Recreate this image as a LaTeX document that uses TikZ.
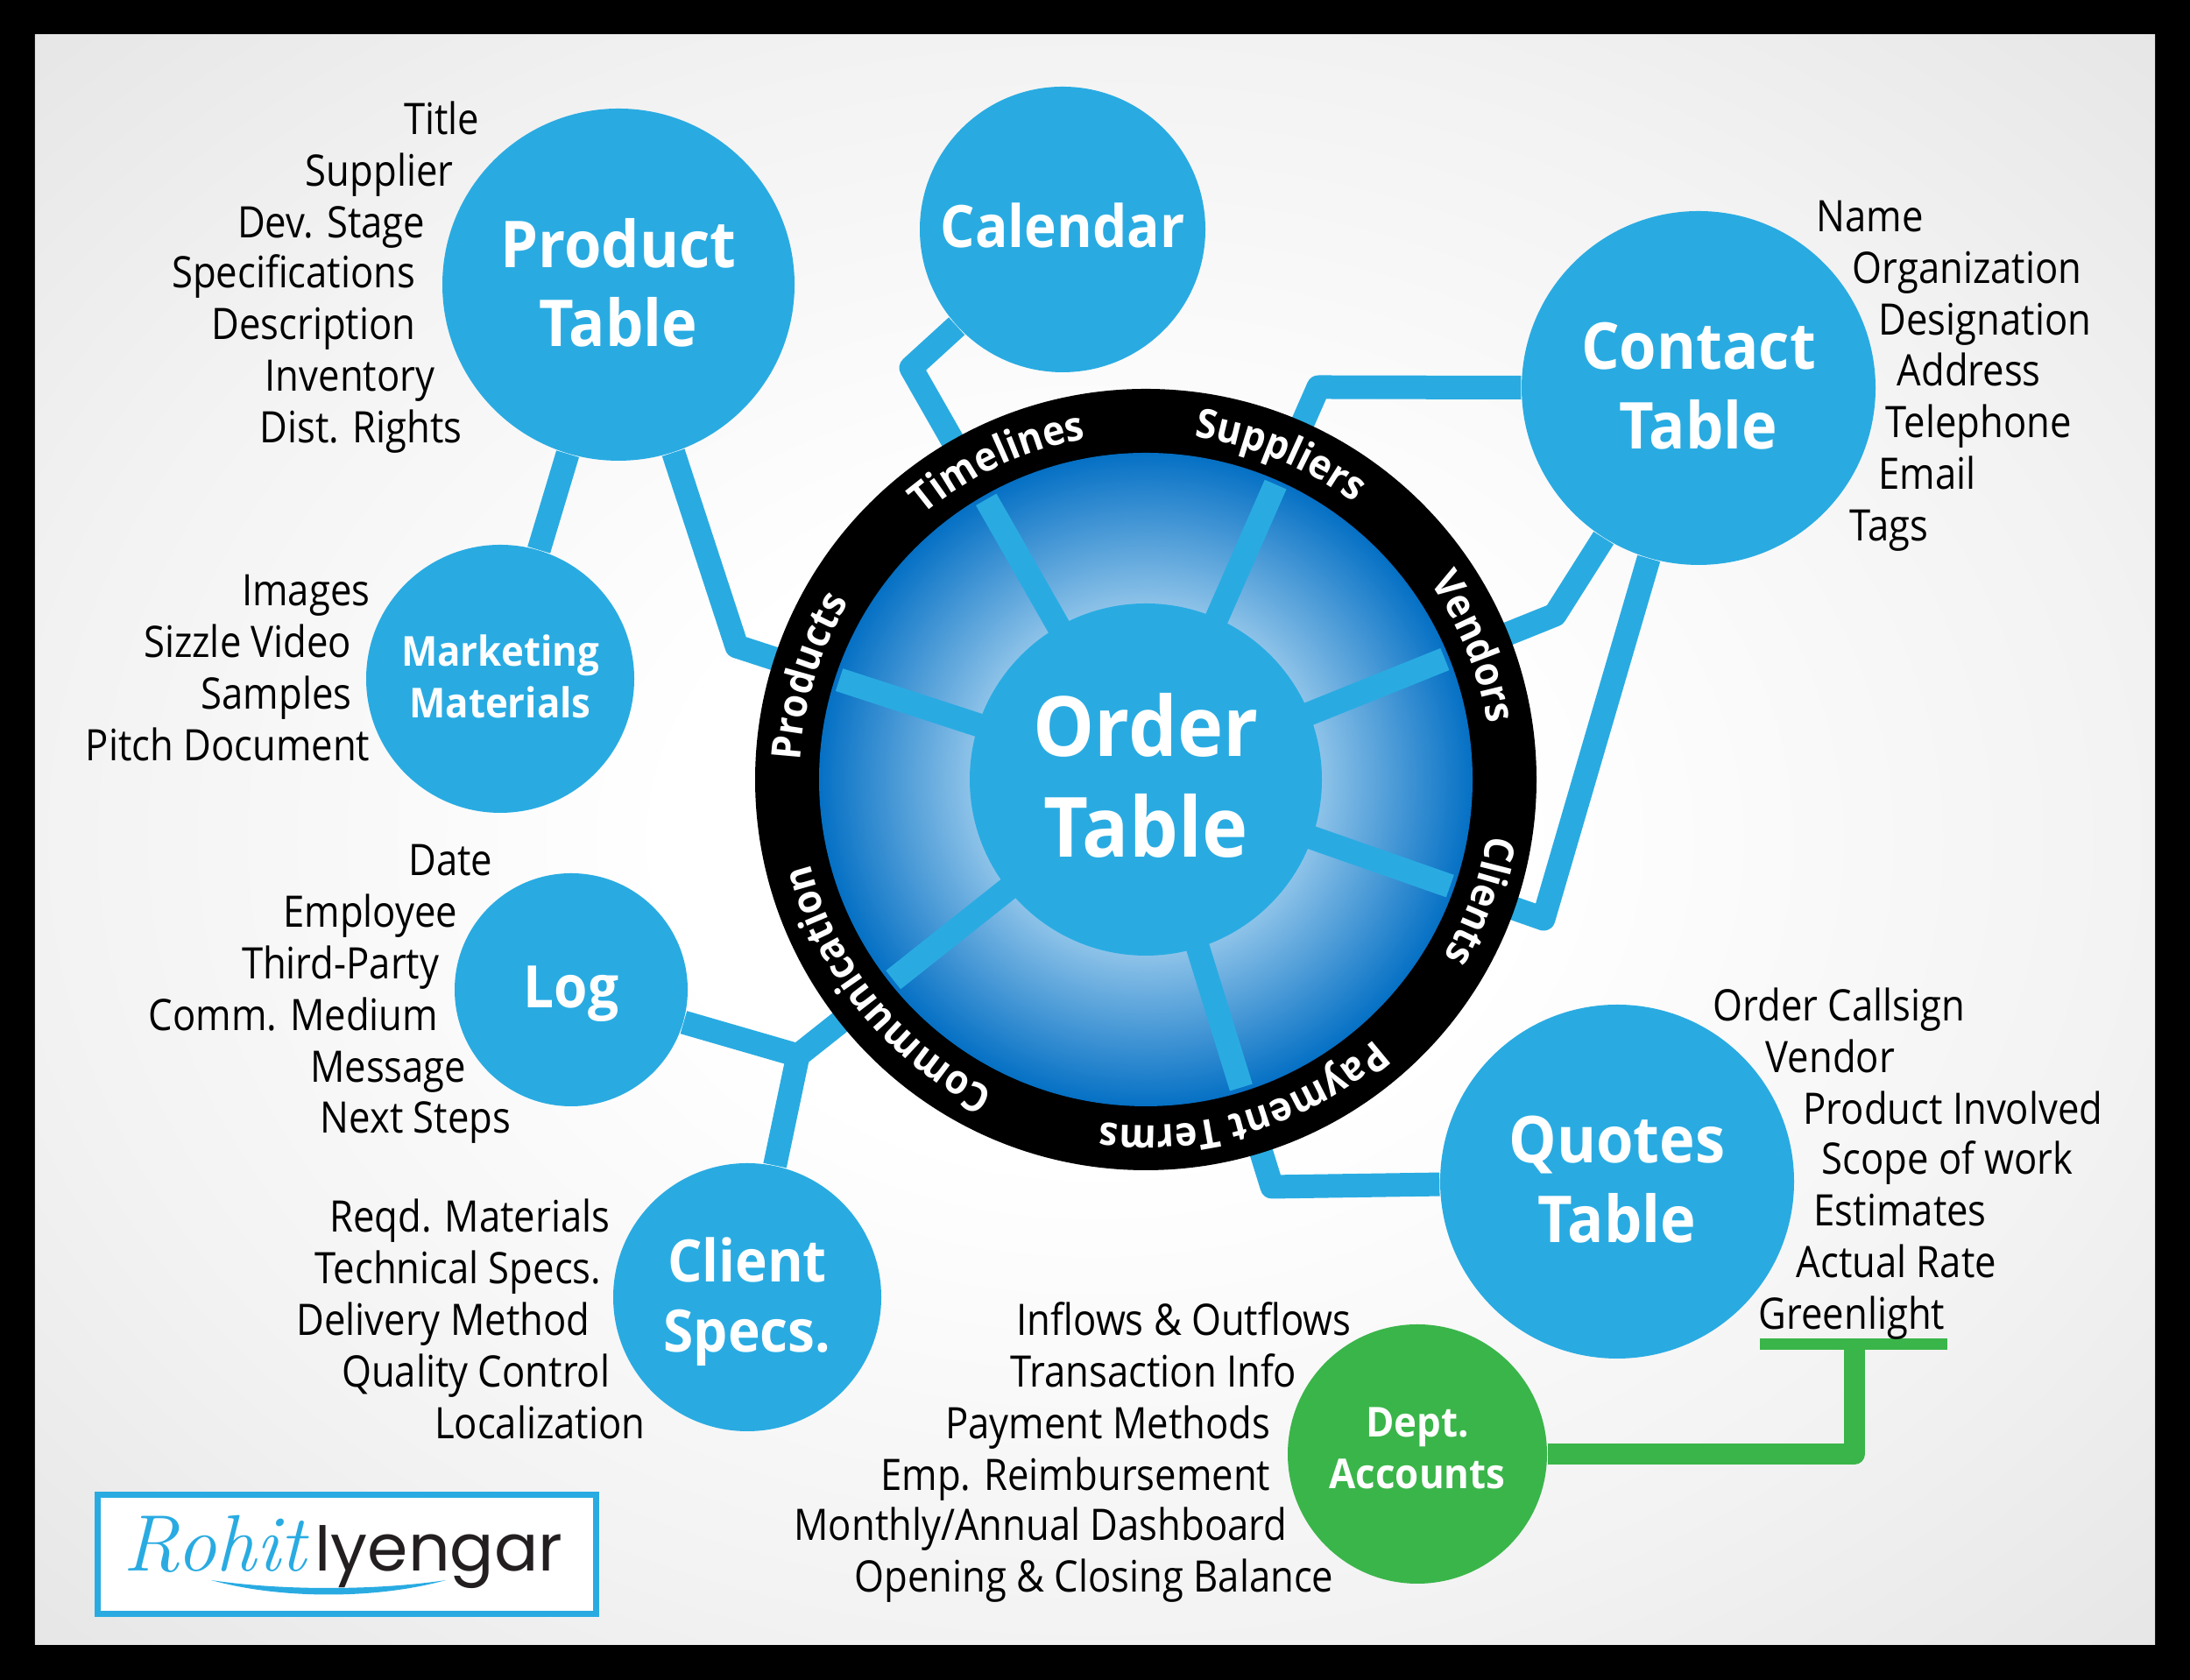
\documentclass[tikz,border=0pt]{standalone}
\usepackage{fontspec}
\usetikzlibrary{calc,backgrounds,decorations.text}
\newfontfamily\opensans[FakeStretch=0.88]{Open Sans}
\newfontfamily\boldsans[FakeStretch=0.93]{Open Sans}
\newfontfamily\logosans{Poppins}
\definecolor{tableblue}{HTML}{29ABE2}
\definecolor{deptgreen}{HTML}{3AB54A}
\definecolor{logoink}{HTML}{231F20}
\pgfdeclareradialshading{paperglow}{\pgfpoint{0bp}{0bp}}{rgb(0bp)=(1,1,1);rgb(10bp)=(1,1,1);rgb(25bp)=(.95,.95,.95);rgb(36bp)=(.90,.90,.90);rgb(50bp)=(.90,.90,.90)}
\pgfdeclareradialshading{discglow}{\pgfpoint{0bp}{0bp}}{rgb(0bp)=(.60,.80,.93);rgb(13.5bp)=(.55,.76,.91);rgb(25bp)=(.02,.44,.77);rgb(50bp)=(.02,.44,.77)}
\begin{document}
\begin{tikzpicture}
\tikzstyle{table}=[circle,fill=tableblue,text=white,inner sep=0pt,align=center]
\tikzstyle{big}=[font=\boldsans\bfseries\fontsize{21}{25.8}\selectfont]
\tikzstyle{mid}=[font=\boldsans\bfseries\fontsize{19}{23}\selectfont]
\tikzstyle{small}=[font=\boldsans\bfseries\fontsize{13.4}{16.8}\selectfont]
\tikzstyle{leftitem}=[anchor=east,inner sep=0pt,yshift=-.04cm,text=black,text height=.4cm,text depth=.12cm,font=\opensans\fontsize{14.1}{17}\selectfont]
\tikzstyle{rightitem}=[leftitem,anchor=west]
\tikzstyle{link}=[draw=tableblue,line width=0.27cm,line join=round]
\tikzstyle{greenlink}=[draw=deptgreen,line width=0.24cm,line join=round]
\node[circle,fill=black,minimum size=8.92cm,inner sep=0pt] (ring) at (13.08,10.28) {};
\foreach \a/\lbl in {163/Products,115/Timelines,67.5/Suppliers,22/Vendors,-20/Clients,-73/Payment Terms,-141/Communication}
  \path[decorate,decoration={text along path,text={|\boldsans\bfseries\fontsize{13.2}{15}\selectfont\color{white}|\lbl},text align=center}]
    ($(ring.center)+(\a+36:3.95)$) arc[start angle=\a+36,end angle=\a-36,radius=3.95];
\node[circle,shading=discglow,minimum size=7.46cm,inner sep=0pt] (disc) at (ring.center) {};
\coordinate (elbowProducts) at (8.41,11.80);
\coordinate (elbowTimelines) at (10.40,14.98);
\coordinate (elbowSuppliers) at (15.05,14.76);
\coordinate (elbowVendors) at (17.75,12.16);
\coordinate (elbowClients) at (17.62,8.69);
\coordinate (elbowTerms) at (14.52,5.63);
\coordinate (elbowComm) at (9.11,7.13);
\foreach \e in {Products,Timelines,Suppliers,Vendors,Clients,Terms,Comm}
  \draw[link] (disc.center) -- ($(disc.center)!3.68cm!(elbow\e)$);
\node[table,minimum size=4.02cm,font=\boldsans\bfseries\fontsize{27}{32.5}\selectfont] (order) at (ring.center) {Order\\Table\rule[-.1cm]{0pt}{0pt}};
\node[table,big,minimum size=4.02cm] (product) at (7.06,15.93) {Product\\Table\rule[-.05cm]{0pt}{0pt}};
\node[table,mid,minimum size=3.26cm] (calendar) at (12.13,16.56) {Calendar\rule[-.1cm]{0pt}{0pt}};
\node[table,big,minimum size=4.04cm] (contact) at (19.39,14.75) {Contact\\Table\rule[-.05cm]{0pt}{0pt}};
\node[table,small,minimum size=3.06cm] (marketing) at (5.71,11.43) {Marketing\\Materials\rule[-.05cm]{0pt}{0pt}};
\node[table,mid,minimum size=2.66cm] (log) at (6.52,7.88) {\rule{0pt}{.58cm}Log};
\node[table,mid,minimum size=3.06cm] (client) at (8.53,4.37) {\rule{0pt}{.61cm}Client\\Specs.};
\node[table,big,minimum size=4.04cm] (quotes) at (18.46,5.69) {Quotes\\Table\rule[-.05cm]{0pt}{0pt}};
\node[table,small,fill=deptgreen,minimum size=2.96cm] (dept) at (16.18,2.58) {Dept.\\Accounts\rule[-.13cm]{0pt}{0pt}};
\foreach \x/\y/\lbl [count=\n] in {5.48/17.82/Title,5.18/17.23/Supplier,4.86/16.64/Dev. Stage,4.75/16.07/Specifications,4.75/15.48/Description,4.97/14.89/Inventory,5.28/14.30/Dist. Rights}
  \node[leftitem] (productitem\n) at (\x,\y) {\lbl};
\foreach \x/\y/\lbl [count=\n] in {4.23/12.44/Images,4.02/11.85/Sizzle Video,4.02/11.26/Samples,4.23/10.67/Pitch Document}
  \node[leftitem] (marketingitem\n) at (\x,\y) {\lbl};
\foreach \x/\y/\lbl [count=\n] in {5.63/9.36/Date,5.23/8.77/Employee,5.02/8.18/Third-Party,5.01/7.59/Comm. Medium,5.33/7.00/Message,5.84/6.42/Next Steps}
  \node[leftitem] (logitem\n) at (\x,\y) {\lbl};
\foreach \x/\y/\lbl [count=\n] in {6.97/5.29/Reqd. Materials,6.87/4.70/Technical Specs.,6.74/4.11/Delivery Method,6.97/3.52/Quality Control,7.37/2.93/Localization}
  \node[leftitem] (clientitem\n) at (\x,\y) {\lbl};
\foreach \x/\y/\lbl [count=\n] in {15.43/4.11/Inflows \& Outflows,14.81/3.52/Transaction Info,14.51/2.93/Payment Methods,14.51/2.34/Emp. Reimbursement,14.70/1.77/Monthly\slash Annual Dashboard,15.23/1.18/Opening \& Closing Balance}
  \node[leftitem] (deptitem\n) at (\x,\y) {\lbl};
\foreach \x/\y/\lbl [count=\n] in {20.73/16.71/Name,21.14/16.12/Organization,21.44/15.53/Designation,21.65/14.95/Address,21.52/14.36/Telephone,21.44/13.77/Email,21.11/13.18/Tags}
  \node[rightitem] (contactitem\n) at (\x,\y) {\lbl};
\foreach \x/\y/\lbl [count=\n] in {19.55/7.70/Order Callsign,20.15/7.11/Vendor,20.58/6.52/Product Involved,20.79/5.95/Scope of work,20.70/5.36/Estimates,20.50/4.77/Actual Rate,20.07/4.18/Greenlight}
  \node[rightitem] (quotesitem\n) at (\x,\y) {\lbl};
\coordinate (barLeft) at (20.09,3.83);
\coordinate (barRight) at (22.23,3.83);
\coordinate (barMid) at (21.17,3.83);
\coordinate (barCorner) at (21.17,2.58);
\begin{scope}[on background layer]
\fill[black] (0,0) rectangle (25,19.18);
\shade[shading=paperglow] (0.4,0.4) rectangle (24.6,18.78);
\draw[link] (product) -- (elbowProducts) -- (order);
\draw[link] (product) -- (marketing);
\draw[link] (calendar) -- (elbowTimelines) -- (order);
\draw[link] (contact) -- (elbowSuppliers) -- (order);
\draw[link] (contact) -- (elbowVendors) -- (order);
\draw[link] (contact) -- (elbowClients) -- (order);
\draw[link] (quotes) -- (elbowTerms) -- (order);
\draw[link] (log) -- (elbowComm) -- (order);
\draw[link] (client) -- (elbowComm);
\draw[greenlink] (dept) -- (barCorner) -- (barMid);
\draw[draw=deptgreen,line width=0.13cm] (barLeft) -- (barRight);
\end{scope}
\node[draw=tableblue,fill=white,line width=0.07cm,minimum width=5.69cm,minimum height=1.36cm,inner sep=0pt] (logobox) at (3.96,1.435) {};
\fill[tableblue] (2.41,1.14) .. controls (3.2,0.92) and (4.3,0.92) .. (5.09,1.14) .. controls (4.3,1.02) and (3.2,1.02) .. (2.41,1.14);
\node[inner sep=0pt,text=tableblue,font=\itshape\fontsize{26}{26}\selectfont] (logorohit) at (2.45,1.55) {Rohit};
\node[inner sep=0pt,text=logoink,font=\logosans\fontsize{21.2}{21.2}\selectfont] (logoiyengar) at (5.01,1.40) {Iyengar};
\end{tikzpicture}
\end{document}
